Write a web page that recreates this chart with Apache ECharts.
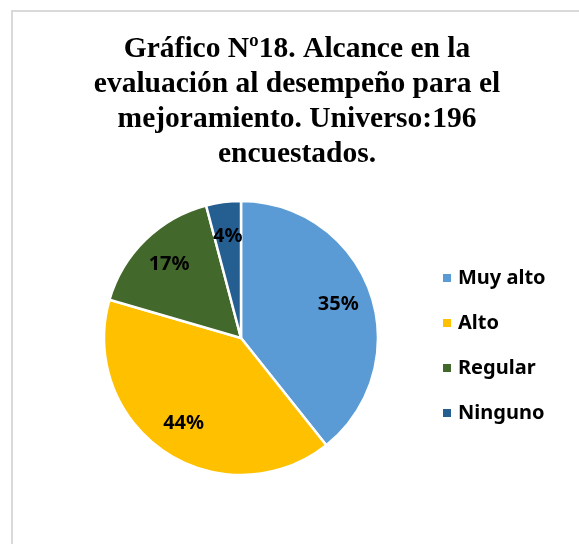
<!DOCTYPE html>
<html>
<head>
<meta charset="utf-8">
<script src="https://cdn.jsdelivr.net/npm/echarts@6/dist/echarts.min.js"></script>
<style>
  html, body { margin: 0; padding: 0; background: #fff; overflow: hidden; }
  #frame { position: absolute; left: 11px; top: 10px; width: 600px; height: 600px;
           border-left: 2px solid #d9d9d9; border-top: 2px solid #d9d9d9; box-sizing: border-box; }
  #chart { position: absolute; left: 0; top: 0; width: 594px; height: 544px; }
</style>
</head>
<body>
<div id="frame"></div>
<div id="chart"></div>
<script>
// categories and slice shares as drawn (angles)
const categories = ['Muy alto', 'Alto', 'Regular', 'Ninguno']
const sliceShares = [39.3, 40.2, 16.4, 4.1]
// percentage texts printed on the slices
const labelTexts = ['35%', '44%', '17%', '4%']
const colors = ['#5B9BD5', '#FFC000', '#43682B', '#255E91']

const chart = echarts.init(document.getElementById('chart'))

const pieData = categories.map((name, i) => ({
  name,
  value: sliceShares[i],
  itemStyle: { color: colors[i] }
}))

chart.setOption({
  animation: false,
  title: {
    text: 'Gráfico Nº18. Alcance en la\nevaluación al desempeño para el\nmejoramiento. Universo:196\nencuestados.',
    left: 'center',
    top: 27,
    textStyle: {
      fontFamily: 'Liberation Serif',
      fontWeight: 'bold',
      fontSize: 29.5,
      lineHeight: 35,
      color: '#000'
    }
  },
  legend: {
    orient: 'vertical',
    left: 436,
    top: 263,
    icon: 'rect',
    itemWidth: 10,
    itemHeight: 10,
    itemGap: 25,
    data: categories,
    textStyle: {
      fontFamily: 'Noto Sans',
      fontWeight: 'bold',
      fontSize: 20,
      lineHeight: 20,
      color: '#000',
      padding: [0, 0, 0, 1]
    }
  },
  series: [
    {
      type: 'pie',
      center: [241, 338],
      radius: [0, 137],
      startAngle: 90,
      clockwise: true,
      label: { show: false },
      labelLine: { show: false },
      itemStyle: { borderColor: '#fff', borderWidth: 2.5 },
      data: pieData
    },
    {
      // transparent ring used only to place the labels further out
      type: 'pie',
      center: [241, 338],
      radius: [63, 137],
      startAngle: 90,
      clockwise: true,
      silent: true,
      itemStyle: { color: 'transparent', borderWidth: 0 },
      label: {
        show: true,
        position: 'inside',
        formatter: p => labelTexts[p.dataIndex],
        fontFamily: 'Noto Sans',
        fontWeight: 'bold',
        fontSize: 20,
        color: '#000'
      },
      labelLine: { show: false },
      data: categories.map((name, i) => ({ name, value: sliceShares[i] }))
    }
  ]
})
</script>
</body>
</html>
